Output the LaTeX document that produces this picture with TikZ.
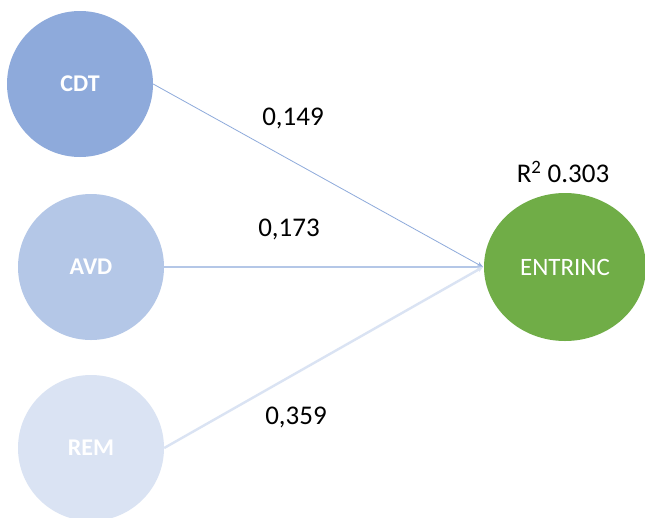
\documentclass[tikz,border=0pt]{standalone}
\usepackage{fontspec}
\setmainfont{Carlito}
\usetikzlibrary{shapes.geometric,arrows.meta}

\definecolor{cdtblue}{HTML}{8EAADB}
\definecolor{avdblue}{HTML}{B4C7E7}
\definecolor{remblue}{HTML}{DAE3F3}
\definecolor{outgreen}{HTML}{70AD47}

\tikzset{
  construct/.style={circle, minimum size=146pt, inner sep=0pt, text=white,
    font=\fontsize{24}{28}\selectfont\bfseries},
  target/.style={ellipse, minimum width=162pt, minimum height=148pt, inner sep=0pt,
    fill=outgreen, text=white, font=\fontsize{25}{29}\selectfont},
  coef/.style={font=\fontsize{27}{31}\selectfont, text=black},
  path/.style={-{Stealth[length=6pt,width=5pt]}},
}

\begin{document}
\begin{tikzpicture}[x=1pt, y=-1pt]
  \clip (0,0) rectangle (645,517);
  \fill[white] (0,0) rectangle (645,517);

  % latent constructs
  \node[construct, fill=cdtblue] (cdt) at (80,84) {CDT};
  \node[construct, fill=avdblue] (avd) at (91,267) {AVD};
  \node[construct, fill=remblue] (rem) at (91,448) {REM};
  \node[target] (ent) at (565,267) {ENTRINC};

  % structural paths
  \coordinate (tip) at (483,267);
  \draw[path, draw=cdtblue, line width=0.8pt] (cdt.east) -- (tip);
  \draw[path, draw=avdblue, line width=1.1pt] (avd.east) -- (tip);
  \draw[path, draw=remblue, line width=2.4pt] (rem.east) -- (tip);

  % path coefficients
  \node[coef] (c1) at (293,118) {0,149};
  \node[coef] (c2) at (289,229) {0,173};
  \node[coef] (c3) at (296,417) {0,359};
  \node[coef] (r2) at (563,172) {R\textsuperscript{2} 0.303};
\end{tikzpicture}
\end{document}
